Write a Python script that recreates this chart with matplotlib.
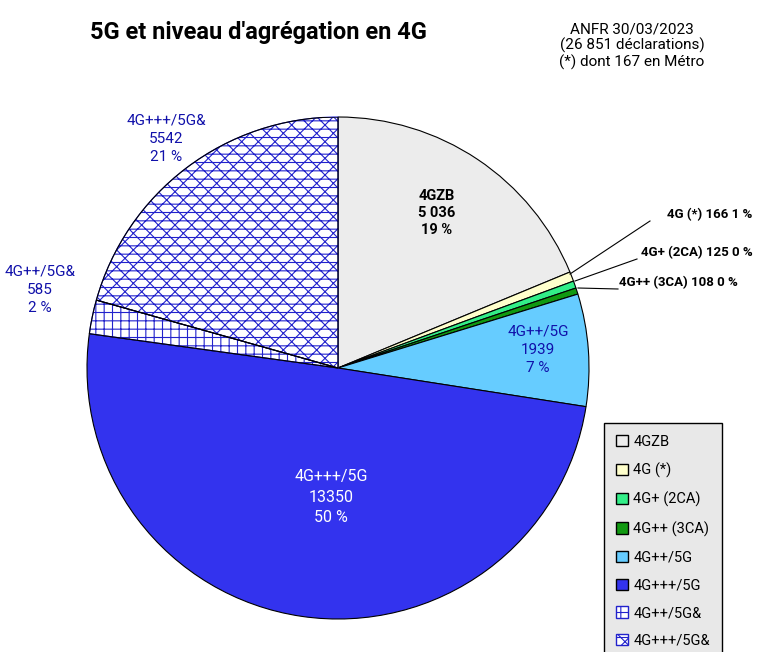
import matplotlib.pyplot as plt
import matplotlib as mpl
from matplotlib.patches import Patch

plt.rcParams['font.family'] = ['Roboto', 'DejaVu Sans']
mpl.rcParams['hatch.linewidth'] = 0.8

labels = ['4GZB', '4G (*)', '4G+ (2CA)', '4G++ (3CA)', '4G++/5G', '4G+++/5G', '4G++/5G&', '4G+++/5G&']
values = [5036, 166, 125, 108, 1939, 13350, 585, 5542]
colors = ['#ececec', '#ffffcc', '#33ee88', '#119911', '#66ccff', '#3333ee', 'white', 'white']
hatches = [None, None, None, None, None, None, '++', 'xx--']

fig = plt.figure(figsize=(7.67, 6.52), dpi=100)
W, H = 767, 652
cx, cy, r = 338, 368, 251
ax = fig.add_axes([(cx - r) / W, (H - cy - r) / H, 2 * r / W, 2 * r / H])
wedges, _ = ax.pie(values, colors=colors, startangle=90, counterclock=False,
                   wedgeprops=dict(edgecolor='black', linewidth=0.8))
for w, h in zip(wedges, hatches):
    if h:
        w.set_hatch(h)
        w.set_edgecolor('#2222cc')
        w.set_linewidth(0.8)
# redraw black outlines for hatched slices
for w, h in zip(wedges, hatches):
    if h:
        ax.add_patch(plt.matplotlib.patches.Wedge(w.center, w.r, w.theta1, w.theta2,
                                                  fill=False, edgecolor='black', linewidth=0.8))
ax.set_xlim(-1, 1)
ax.set_ylim(-1, 1)
ax.axis('off')

def px(x, y):
    return x / W, 1 - y / H

fig.text(*px(258, 32), "5G et niveau d'agrégation en 4G", ha='center', va='center',
         fontsize=17, fontweight='bold')
fig.text(*px(632, 46), "ANFR 30/03/2023\n(26 851 déclarations)\n(*) dont 167 en Métro",
         ha='center', va='center', fontsize=11, linespacing=1.1)

fig.text(*px(437, 213), "4GZB\n5 036\n19 %", ha='center', va='center', fontsize=10.5,
         fontweight='bold', linespacing=1.3)
fig.text(*px(538, 350), "4G++/5G\n1939\n7 %", ha='center', va='center', fontsize=11,
         color='#1111aa', linespacing=1.4)
fig.text(*px(331, 497), "4G+++/5G\n13350\n50 %", ha='center', va='center', fontsize=11.5,
         color='white', linespacing=1.5)
fig.text(*px(40, 290), "4G++/5G&\n585\n2 %", ha='center', va='center', fontsize=11,
         color='#1111aa', linespacing=1.4)
fig.text(*px(166, 139), "4G+++/5G&\n5542\n21 %", ha='center', va='center', fontsize=11,
         color='#1111aa', linespacing=1.4)

small = [("4G (*) 166 1 %", 710, 215, 570, 274),
         ("4G+ (2CA) 125 0 %", 697, 253, 575, 281),
         ("4G++ (3CA) 108 0 %", 678, 283, 578, 288)]
for txt, tx, ty, lx, ly in small:
    fig.text(*px(tx, ty), txt, ha='center', va='center', fontsize=9.5, fontweight='bold')
    fig.add_artist(plt.Line2D([px(lx, ly)[0], px(tx - 60, ty + 6)[0]],
                              [px(lx, ly)[1], px(tx - 60, ty + 6)[1]],
                              color='black', linewidth=0.8))

handles = [Patch(facecolor=c, edgecolor='black' if not h else '#2222cc', hatch=h, label=l)
           for c, h, l in zip(colors, hatches, labels)]
leg = fig.legend(handles=handles, loc='upper left', bbox_to_anchor=px(597, 416),
                 fontsize=10.5, frameon=True, fancybox=False, handlelength=0.8,
                 handleheight=0.8, labelspacing=0.95, borderpad=0.8, handletextpad=0.4)
leg.get_frame().set_facecolor('#e8e8e8')
leg.get_frame().set_edgecolor('black')
leg.get_frame().set_alpha(1)

fig.savefig('out.png', dpi=100)
